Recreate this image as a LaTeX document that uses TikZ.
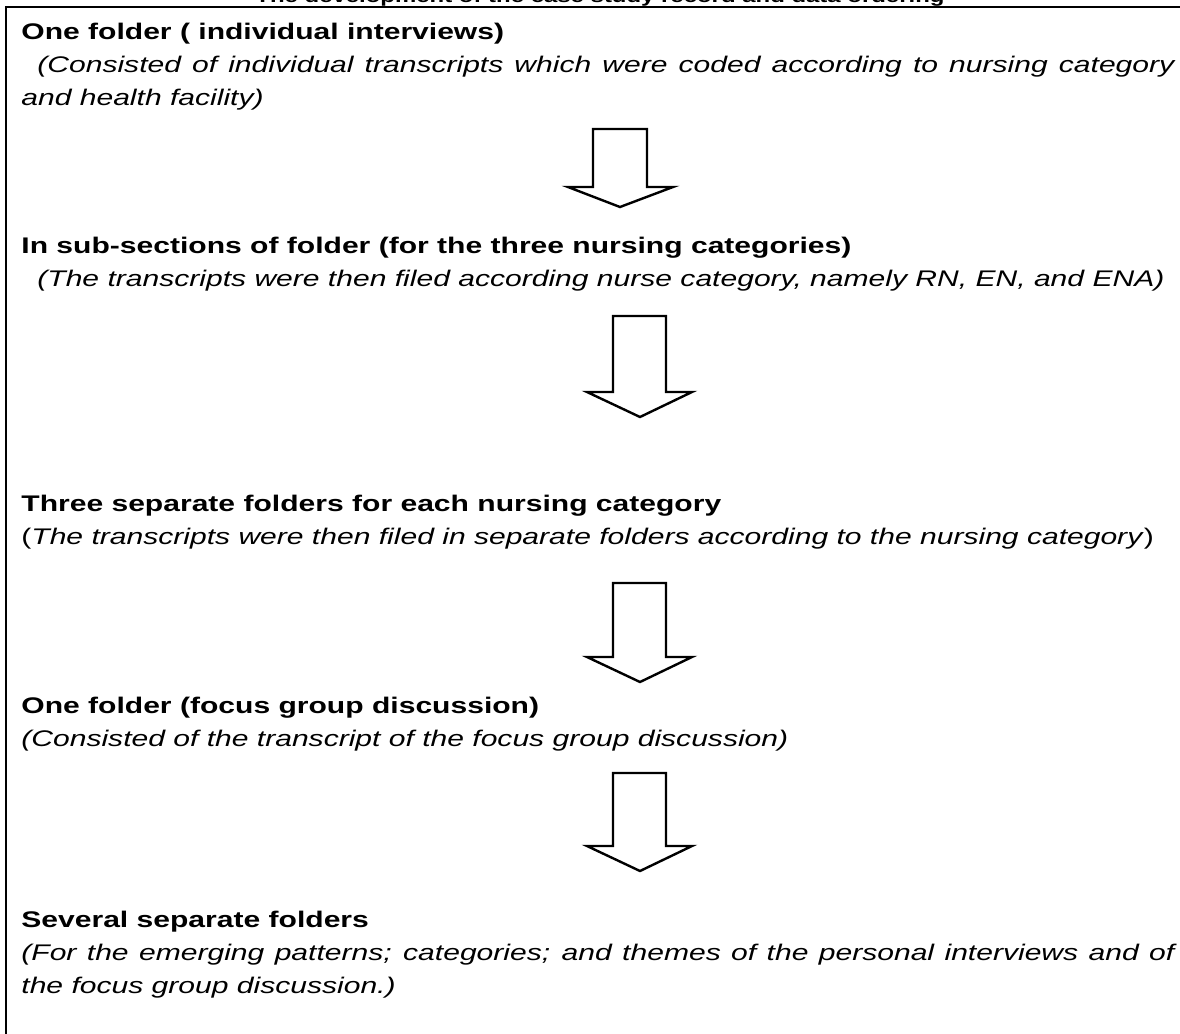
\documentclass[tikz,border=0pt]{standalone}
\usepackage{fontspec}
\setmainfont{Liberation Sans}[FakeStretch=1.33]
\begin{document}
\begin{tikzpicture}[x=0.5pt,y=-0.5pt,
  head/.style={anchor=base west,inner sep=0,font=\fontsize{11.3}{13}\selectfont\bfseries},
  desc/.style={anchor=base west,inner sep=0,font=\fontsize{11.3}{13}\selectfont\itshape},
  blk/.style={draw,line width=1.2pt,fill=white,line join=miter}]
\useasboundingbox (0,0) rectangle (1180,1034);
\clip (0,0) rectangle (1180,1034);
% title (cut off at top, as in the reference)
\node[anchor=base,inner sep=0,font=\fontsize{9}{11}\selectfont\bfseries] (title) at (600,2.5) {The development of the case study record and data ordering};
% frame
\draw[line width=1pt] (1180,7) -- (6,7) -- (6,1034);
% block 1
\node[head] (h1) at (21,39) {One folder ( individual interviews)};
\node[desc] (d1a) at (37,72) {\makebox[568.5pt][s]{(Consisted of individual transcripts which were coded according to nursing category}};
\node[desc] (d1b) at (21,105) {and health facility)};
% block 2
\node[head] (h2) at (21,253) {In sub-sections of folder (for the three nursing categories)};
\node[desc] (d2) at (37,286) {(The transcripts were then filed according nurse category, namely RN, EN, and ENA)};
% block 3
\node[head] (h3) at (21,511) {Three separate folders for each nursing category};
\node[anchor=base west,inner sep=0,font=\fontsize{11.3}{13}\selectfont] (d3) at (21,544) {(\textit{The transcripts were then filed in separate folders according to the nursing category})};
% block 4
\node[head] (h4) at (21,713) {One folder (focus group discussion)};
\node[desc] (d4) at (21,746) {(Consisted of the transcript of the focus group discussion)};
% block 5
\node[head] (h5) at (21,927) {Several separate folders};
\node[desc] (d5a) at (21,960) {\makebox[576.5pt][s]{(For the emerging patterns; categories; and themes of the personal interviews and of}};
\node[desc] (d5b) at (21,993) {the focus group discussion.)};
% block arrows
\draw[blk] (593,129) -- (647,129) -- (647,187) -- (673,187) -- (620,207) -- (568,187) -- (593,187) -- cycle;
\draw[blk] (613,316) -- (666,316) -- (666,392) -- (692,392) -- (640,417) -- (587,392) -- (613,392) -- cycle;
\draw[blk] (613,583) -- (666,583) -- (666,657) -- (692,657) -- (640,682) -- (587,657) -- (613,657) -- cycle;
\draw[blk] (613,773) -- (666,773) -- (666,846) -- (692,846) -- (640,871) -- (587,846) -- (613,846) -- cycle;
\end{tikzpicture}
\end{document}
